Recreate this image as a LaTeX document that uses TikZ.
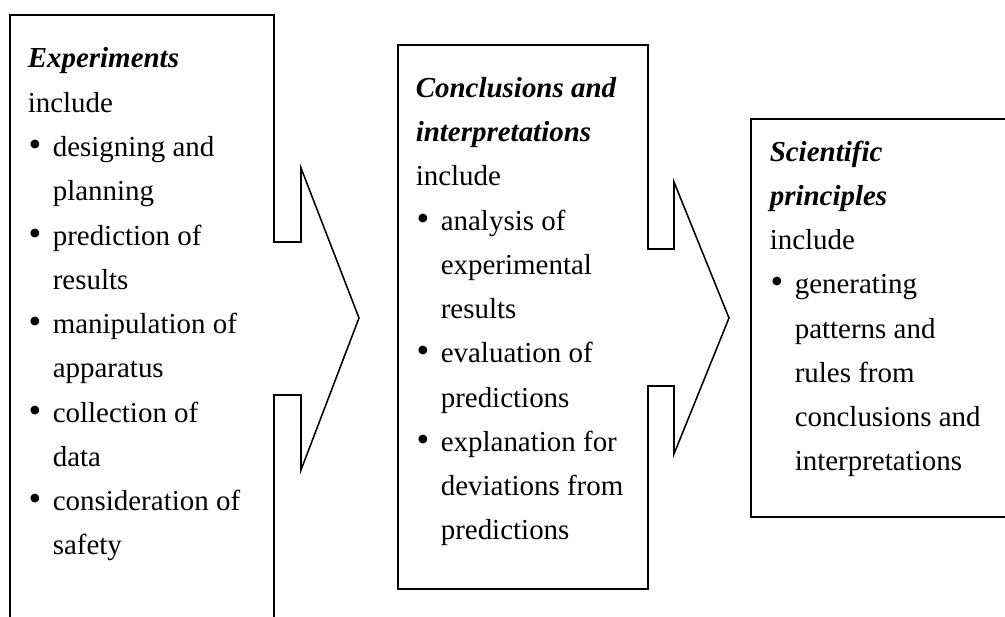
\documentclass[tikz,border=0pt]{standalone}
\usepackage{fontspec}
\setmainfont{Liberation Serif}
\newcommand{\bul}{\makebox[0.625cm][l]{\hspace{0.02cm}\scalebox{1.25}{\textbullet}}}
\newcommand{\cont}{\hspace*{0.625cm}}

\begin{document}
\begin{tikzpicture}[line width=1.1pt,every node/.style={font=\fontsize{20.6}{31.5}\selectfont,align=left,anchor=base west,inner sep=0pt}]
      \clip (0,0) rectangle (25.125,15.425);
      \draw (0.25,-0.5)--(0.25,15.05)--(6.85,15.05)--(6.85,9.375)--(7.525,9.375)--(7.525,11.225)--(8.975,7.475)--(7.525,3.675)--(7.525,5.55)--(6.85,5.55)--(6.85,-0.5);%左の箱
      \draw (9.95,0.7)--(9.95,14.3)--(16.2,14.3)--(16.2,9.2)--(16.85,9.2)--(16.85,10.875)--(18.225,7.475)--(16.85,4.075)--(16.85,5.775)--(16.2,5.775)--(16.2,0.7)--cycle;%中の箱
      \draw (18.775,2.5) rectangle (25.5,12.45);%右の箱
      % base = 最後の行のベースライン
      \node (exp) at (0.675,1.55) {\textbf{\textit{Experiments}}\\ include\\ \bul designing and\\ \cont planning\\ \bul prediction of\\ \cont results\\ \bul manipulation of\\ \cont apparatus\\ \bul collection of\\ \cont data\\ \bul consideration of\\ \cont safety};
      \node (concl) at (10.375,1.925) {\textbf{\textit{Conclusions and}}\\ \textbf{\textit{interpretations}}\\ include\\ \bul analysis of\\ \cont experimental\\ \cont results\\ \bul evaluation of\\ \cont predictions\\ \bul explanation for\\ \cont deviations from\\ \cont predictions};
      \node (princ) at (19.225,3.65) {\textbf{\textit{Scientific}}\\ \textbf{\textit{principles}}\\ include\\ \bul generating\\ \cont patterns and\\ \cont rules from\\ \cont conclusions and\\ \cont interpretations};
    \end{tikzpicture}
\end{document}
